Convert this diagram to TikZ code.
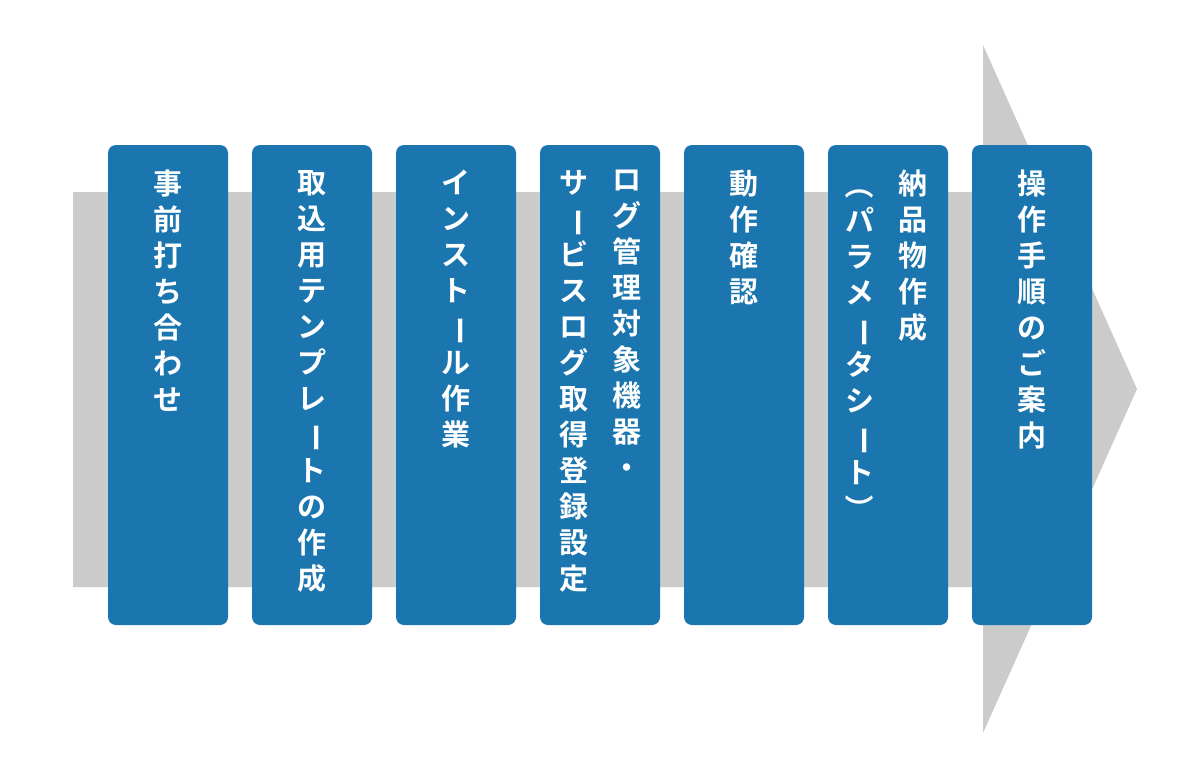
\documentclass[tikz,border=0pt]{standalone}
\usepackage{fontspec}
\newfontfamily\cjk{Noto Sans CJK JP Bold}
\usepackage{graphicx}
\definecolor{stepBlue}{HTML}{1B75AE}
\definecolor{flowGray}{HTML}{CBCBCB}
\newcommand{\vbar}{\rotatebox[origin=c]{-90}{ー}}
\newcommand{\vopen}{\rotatebox[origin=c]{-90}{（}}
\newcommand{\vclose}{\rotatebox[origin=c]{-90}{）}}

\begin{document}
\begin{tikzpicture}[x=1pt, y=-1pt,
    stepbox/.style = {fill=stepBlue, rounded corners=8pt,
                   minimum width=120pt, minimum height=480pt, inner sep=0pt},
    vtext/.style = {anchor=north, align=center, inner sep=0pt, text=white,
                    font=\cjk\fontsize{29}{36}\selectfont}]
    \useasboundingbox (0, 0) rectangle (1200, 779) ;

    % big arrow behind the steps %
    \fill [flowGray] (73, 192) -- (983, 192) -- (983, 45) -- (1137, 389)
          -- (983, 733) -- (983, 587) -- (73, 587) -- cycle ;

    % step boxes %
    \node [stepbox] at (168, 385) (box-prep) {} ;
    \node [stepbox] at (312, 385) (box-tmpl) {} ;
    \node [stepbox] at (456, 385) (box-inst) {} ;
    \node [stepbox] at (600, 385) (box-log)  {} ;
    \node [stepbox] at (744, 385) (box-test) {} ;
    \node [stepbox] at (888, 385) (box-dlv)  {} ;
    \node [stepbox] at (1032, 385) (box-man) {} ;

    % vertical labels %
    \node [vtext] at (168, 170) (lbl-prep)
          {事\\前\\打\\ち\\合\\わ\\せ} ;
    \node [vtext] at (312, 170) (lbl-tmpl)
          {取\\込\\用\\テ\\ン\\プ\\レ\\\vbar\\ト\\の\\作\\成} ;
    \node [vtext] at (456, 170) (lbl-inst)
          {イ\\ン\\ス\\ト\\\vbar\\ル\\作\\業} ;
    \node [vtext] at (627, 170) (lbl-log-a)
          {ロ\\グ\\管\\理\\対\\象\\機\\器\\・} ;
    \node [vtext] at (574, 170) (lbl-log-b)
          {サ\\\vbar\\ビ\\ス\\ロ\\グ\\取\\得\\登\\録\\設\\定} ;
    \node [vtext] at (744, 170) (lbl-test)
          {動\\作\\確\\認} ;
    \node [vtext] at (913, 170) (lbl-dlv-a)
          {納\\品\\物\\作\\成} ;
    \node [vtext] at (860, 170) (lbl-dlv-b)
          {\vopen\\パ\\ラ\\メ\\\vbar\\タ\\シ\\\vbar\\ト\\\vclose} ;
    \node [vtext] at (1032, 170) (lbl-man)
          {操\\作\\手\\順\\の\\ご\\案\\内} ;
\end{tikzpicture}
\end{document}
